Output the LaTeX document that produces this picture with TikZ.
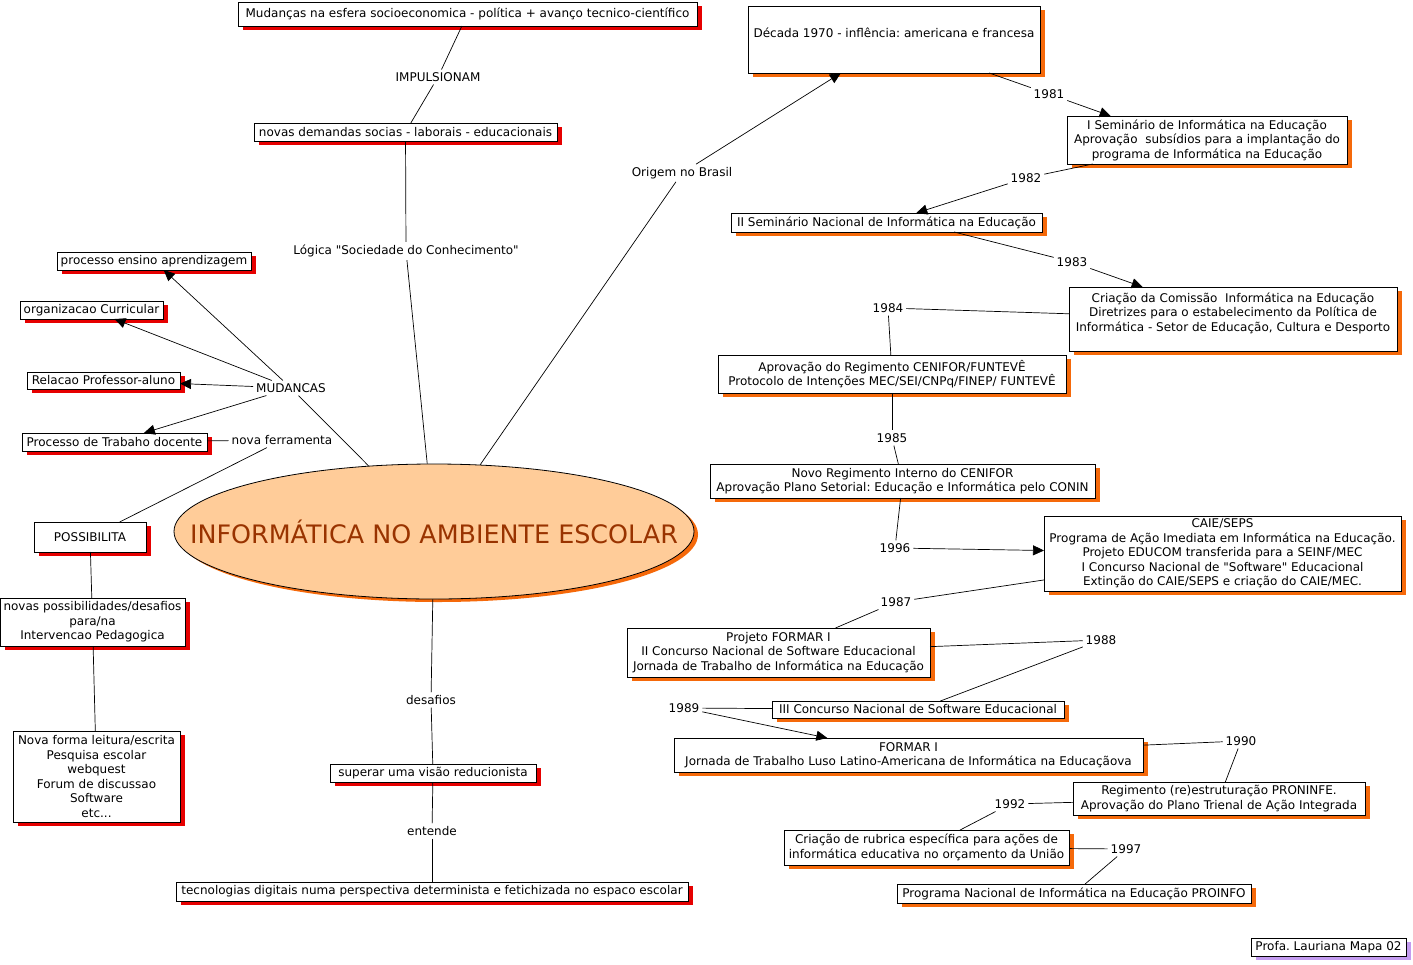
\documentclass[tikz,border=0pt]{standalone}
\usepackage{fontspec}
\setmainfont{DejaVu Sans}[Ligatures=TeXOff]
\usetikzlibrary{shapes.geometric,arrows.meta,shadows}
\definecolor{shred}{RGB}{230,0,0}
\definecolor{shorange}{RGB}{245,105,10}
\definecolor{shpurple}{RGB}{195,155,240}
\definecolor{peach}{RGB}{255,204,153}
\definecolor{ctitle}{RGB}{153,51,0}
\frenchspacing
\begin{document}
\begin{tikzpicture}[x=1pt,y=-1pt,
  every node/.style={font=\fontsize{12}{14.5}\selectfont\frenchspacing},
  box/.style={draw=black, fill=white, line width=0.8pt, inner sep=1pt, outer sep=0pt, align=center},
  wh/.style n args={2}{minimum width=#1pt, minimum height=#2pt},
  redbox/.style={box, drop shadow={shadow xshift=5pt, shadow yshift=-4pt, fill=shred, opacity=1}},
  orabox/.style={box, drop shadow={shadow xshift=5pt, shadow yshift=-4pt, fill=shorange, opacity=1}},
  purbox/.style={box, drop shadow={shadow xshift=5pt, shadow yshift=-4pt, fill=shpurple, opacity=1}},
  lbl/.style={inner sep=3pt, outer sep=0pt},
  conn/.style={draw, line width=0.7pt},
  arr/.style={conn, -{Triangle[length=11pt,width=10pt]}}
]
\useasboundingbox (0,0) rectangle (1413,964);
\fill[white] (0,0) rectangle (1413,964);

% ---- central ellipse
\node[ellipse, draw, line width=0.8pt, fill=peach, minimum width=520pt, minimum height=135pt, inner sep=0pt,
  drop shadow={shadow xshift=4pt, shadow yshift=-3pt, fill=shorange, opacity=1},
  text=ctitle, font=\fontsize{25.4}{30}\selectfont] (main) at (434,531.5)
  {\makebox[0pt]{INFORMÁTICA NO AMBIENTE ESCOLAR}};

% ---- top branch
\node[redbox, wh={459}{24}] (top1) at (467.5,14) {Mudanças na esfera socioeconomica - política + avanço tecnico-científico};
\node[lbl] (impuls) at (438,77) {IMPULSIONAM};
\node[redbox, wh={303}{18}] (nd) at (405.5,132) {novas demandas socias - laborais - educacionais};
\node[lbl] (logica) at (406,251) {Lógica "Sociedade do Conhecimento"};

% ---- left branch
\node[lbl] (mud) at (291,388) {MUDANCAS};
\node[redbox, wh={194}{18}] (pea) at (154,261) {processo ensino aprendizagem};
\node[redbox, wh={143}{18}] (org) at (91.5,310) {organizacao Curricular};
\node[redbox, wh={153}{17}] (rel) at (103.5,380.5) {Relacao Professor-aluno};
\node[redbox, wh={185}{18}] (ptd) at (114.5,442) {Processo de Trabaho docente};
\node[lbl] (novaf) at (282,440) {nova ferramenta};
\node[redbox, wh={112}{30}] (poss) at (90,537) {POSSIBILITA};
\node[redbox, wh={185}{48}] (npd) at (92.5,622) {novas possibilidades/desafios\\para/na\\Intervencao Pedagogica};
\node[redbox, wh={167}{91}] (nfl) at (96.5,776.5) {Nova forma leitura/escrita\\Pesquisa escolar\\webquest\\Forum de discussao\\Software\\etc...};

% ---- bottom branch
\node[lbl] (desaf) at (431,700) {desafios};
\node[redbox, wh={206}{18}] (sup) at (433,773) {superar uma visão reducionista};
\node[lbl] (entende) at (432,831) {entende};
\node[redbox, wh={512}{19}] (tec) at (432,891.5) {tecnologias digitais numa perspectiva determinista e fetichizada no espaco escolar};

% ---- right timeline
\node[lbl] (origem) at (682,173) {Origem no Brasil};
\node[orabox, wh={292}{67}] (dec) at (894,39.5) {Década 1970 - inflência: americana e francesa\\\mbox{}};
\node[lbl] (y1981) at (1049,94) {1981};
\node[orabox, wh={280}{48}] (sem1) at (1207,140) {I Seminário de Informática na Educação\\Aprovação\ \ subsídios para a implantação do\\programa de Informática na Educação};
\node[lbl] (y1982) at (1026,178) {1982};
\node[orabox, wh={311}{19}] (sem2) at (886.5,222.5) {II Seminário Nacional de Informática na Educação};
\node[lbl] (y1983) at (1072,262) {1983};
\node[orabox, wh={328}{64}] (com) at (1233,319) {Criação da Comissão\ \ Informática na Educação\\Diretrizes para o estabelecimento da Política de\\Informática - Setor de Educação, Cultura e Desporto\\\mbox{}};
\node[lbl] (y1984) at (888,308) {1984};
\node[orabox, wh={348}{38}] (reg) at (892,374) {Aprovação do Regimento CENIFOR/FUNTEVÊ\\Protocolo de Intenções MEC/SEI/CNPq/FINEP/ FUNTEVÊ};
\node[lbl] (y1985) at (892,438) {1985};
\node[orabox, wh={385}{34}] (novo) at (902.5,481) {Novo Regimento Interno do CENIFOR\\Aprovação Plano Setorial: Educação e Informática pelo CONIN};
\node[lbl] (y1996) at (895,548) {1996};
\node[orabox, wh={357}{75}] (caie) at (1222.5,553.5) {CAIE/SEPS\\Programa de Ação Imediata em Informática na Educação.\\Projeto EDUCOM transferida para a SEINF/MEC\\I Concurso Nacional de "Software" Educacional\\Extinção do CAIE/SEPS e criação do CAIE/MEC.};
\node[lbl] (y1987) at (896,602) {1987};
\node[orabox, wh={303}{49}] (formar) at (778.5,652.5) {Projeto FORMAR I\\II Concurso Nacional de Software Educacional\\Jornada de Trabalho de Informática na Educação};
\node[lbl] (y1988) at (1101,640) {1988};
\node[orabox, wh={292}{17}] (iii) at (918,709.5) {III Concurso Nacional de Software Educacional};
\node[lbl] (y1989) at (684,708) {1989};
\node[orabox, wh={469}{34}] (formar1) at (908.5,755) {FORMAR I\\Jornada de Trabalho Luso Latino-Americana de Informática na Educaçãova};
\node[lbl] (y1990) at (1241,741) {1990};
\node[orabox, wh={292}{33}] (prn) at (1219,798.5) {Regimento (re)estruturação PRONINFE.\\Aprovação do Plano Trienal de Ação Integrada};
\node[lbl] (y1992) at (1010,804) {1992};
\node[orabox, wh={285}{35}] (rub) at (926.5,847.5) {Criação de rubrica específica para ações de\\informática educativa no orçamento da União};
\node[lbl] (y1997) at (1126,849) {1997};
\node[orabox, wh={354}{19}] (proinfo) at (1074,893.5) {Programa Nacional de Informática na Educação PROINFO};
\node[purbox, wh={155}{18}] (profa) at (1328.5,947) {Profa. Lauriana Mapa 02};

% ---- connectors: top
\draw[conn] (top1) -- (impuls);
\draw[conn] (impuls) -- (nd);
\draw[conn] (nd) -- (logica);
\draw[conn] (logica) -- (main);

% ---- connectors: left
\draw[arr] (mud) -- (pea);
\draw[arr] (mud) -- (org);
\draw[arr] (mud) -- (rel);
\draw[arr] (mud) -- (ptd);
\draw[conn] (mud) -- (main);
\draw[conn] (ptd) -- (novaf);
\draw[conn] (novaf) -- (poss);
\draw[conn] (poss) -- (npd);
\draw[conn] (npd) -- (nfl);

% ---- connectors: bottom
\draw[conn] (main) -- (desaf);
\draw[conn] (desaf) -- (sup);
\draw[conn] (sup) -- (entende);
\draw[conn] (entende) -- (tec);

% ---- connectors: timeline
\draw[conn] (main) -- (origem);
\draw[arr] (origem) -- (dec);
\draw[conn] (dec) -- (y1981);
\draw[arr] (y1981) -- (sem1.166);
\draw[conn] (sem1) -- (y1982);
\draw[arr] (y1982) -- (sem2);
\draw[conn] (sem2.-8) -- (y1983);
\draw[arr] (y1983) -- (com);
\draw[conn] (com) -- (y1984);
\draw[conn] (y1984) -- (reg);
\draw[conn] (reg) -- (y1985);
\draw[conn] (y1985) -- (novo);
\draw[conn] (novo) -- (y1996);
\draw[arr] (y1996) -- (caie);
\draw[conn] (caie) -- (y1987);
\draw[conn] (y1987) -- (formar);
\draw[conn] (formar) -- (y1988);
\draw[conn] (y1988) -- (iii);
\draw[conn] (y1989) -- (iii);
\draw[arr] (y1989) -- (formar1);
\draw[conn] (formar1) -- (y1990);
\draw[conn] (y1990) -- (prn);
\draw[conn] (prn) -- (y1992);
\draw[conn] (y1992) -- (rub);
\draw[conn] (rub) -- (y1997);
\draw[conn] (y1997) -- (proinfo);
\end{tikzpicture}
\end{document}
